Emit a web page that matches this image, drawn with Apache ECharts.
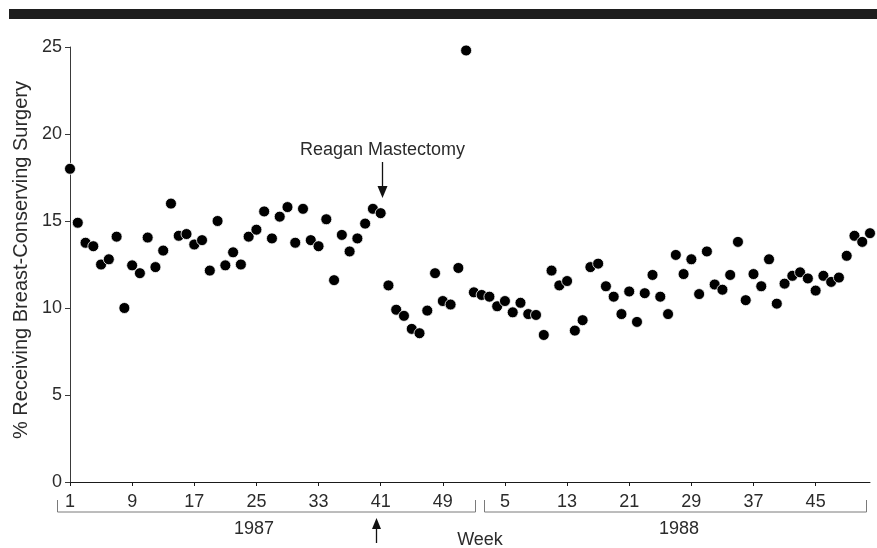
<!DOCTYPE html>
<html>
<head>
<meta charset="utf-8">
<script src="https://cdn.jsdelivr.net/npm/echarts@6/dist/echarts.min.js"></script>
<style>
html,body{margin:0;padding:0;background:#fff;}
#chart{width:877px;height:548px;}
</style>
</head>
<body>
<div id="chart"></div>
<script>
// ---- data ----
const years = ['1987', '1988'];
const weeksPerYear = 52;
const rate1987 = [
  18.0, 14.9, 13.75, 13.55, 12.5, 12.8, 14.1, 10.0, 12.45, 12.0,
  14.05, 12.35, 13.3, 16.0, 14.15, 14.25, 13.65, 13.9, 12.15, 15.0,
  12.45, 13.2, 12.5, 14.1, 14.5, 15.55, 14.0, 15.25, 15.8, 13.75,
  15.7, 13.9, 13.55, 15.1, 11.6, 14.2, 13.25, 14.0, 14.85, 15.7,
  15.45, 11.3, 9.9, 9.55, 8.8, 8.55, 9.85, 12.0, 10.4, 10.2,
  12.3, 24.8
];
const rate1988 = [
  10.9, 10.75, 10.65, 10.1, 10.4, 9.75, 10.3, 9.65, 9.6, 8.45,
  12.15, 11.3, 11.55, 8.7, 9.3, 12.35, 12.55, 11.25, 10.65, 9.65,
  10.95, 9.2, 10.85, 11.9, 10.65, 9.65, 13.05, 11.95, 12.8, 10.8,
  13.25, 11.35, 11.05, 11.9, 13.8, 10.45, 11.95, 11.25, 12.8, 10.25,
  11.4, 11.85, 12.05, 11.7, 11.0, 11.85, 11.5, 11.75, 13.0, 14.15,
  13.8, 14.3
];
const yTicks = [0, 5, 10, 15, 20, 25];
const yAxisTitle = '% Receiving Breast-Conserving Surgery';
const xAxisTitle = 'Week';
const annotationText = 'Reagan Mastectomy';

// categories: "year-week"
const categories = [];
years.forEach(y => { for (let w = 1; w <= weeksPerYear; w++) categories.push(y + '-' + w); });
const values = rate1987.concat(rate1988);

const FONT = "'Liberation Sans', Arial, Helvetica, sans-serif";
const TXT = '#2b2b2b';
const BR = '#7a7a7a';

const chart = echarts.init(document.getElementById('chart'), null, {renderer: 'canvas'});
chart.setOption({
  animation: false,
  backgroundColor: '#fff',
  grid: {left: 70, right: 7, top: 47, bottom: 66},
  xAxis: {
    type: 'category',
    data: categories,
    boundaryGap: false,
    axisLine: {lineStyle: {color: '#1a1a1a', width: 1}},
    axisTick: {show: true, interval: 7, length: 4, lineStyle: {color: '#1a1a1a'}},
    axisLabel: {
      interval: 7, margin: 11, color: TXT, fontSize: 18, fontFamily: FONT,
      formatter: v => v.split('-')[1]
    },
    splitLine: {show: false}
  },
  yAxis: {
    type: 'value',
    min: yTicks[0], max: yTicks[yTicks.length - 1], interval: 5,
    name: yAxisTitle,
    nameLocation: 'middle',
    nameGap: 36,
    nameTextStyle: {color: TXT, fontSize: 20, fontFamily: FONT, padding: [0, 0, 0, 9]},
    axisLine: {show: true, lineStyle: {color: '#3a3a3a', width: 1}},
    axisTick: {show: true, length: 5, lineStyle: {color: '#3a3a3a'}},
    axisLabel: {margin: 8, color: TXT, fontSize: 18, fontFamily: FONT},
    splitLine: {show: false}
  },
  series: [{
    type: 'scatter',
    data: values,
    symbol: 'circle',
    symbolSize: 11,
    itemStyle: {color: '#000', borderColor: '#fff', borderWidth: 0.8, opacity: 1},
    z: 3
  }],
  graphic: [
    {type: 'rect', shape: {x: 9, y: 9, width: 868, height: 10}, style: {fill: '#1e1e1e'}},
    // year brackets
    {type: 'polyline', shape: {points: [[57.5, 500], [57.5, 512], [475.5, 512], [475.5, 500]]}, style: {stroke: BR, lineWidth: 1, fill: null}},
    {type: 'polyline', shape: {points: [[484.5, 500], [484.5, 512], [866.5, 512], [866.5, 500]]}, style: {stroke: BR, lineWidth: 1, fill: null}},
    {type: 'text', x: 254, y: 529, style: {text: years[0], fill: TXT, font: '18px ' + FONT, textAlign: 'center', textVerticalAlign: 'middle'}},
    {type: 'text', x: 679, y: 529, style: {text: years[1], fill: TXT, font: '18px ' + FONT, textAlign: 'center', textVerticalAlign: 'middle'}},
    {type: 'text', x: 480, y: 540, style: {text: xAxisTitle, fill: TXT, font: '18px ' + FONT, textAlign: 'center', textVerticalAlign: 'middle'}},
    // annotation
    {type: 'text', x: 382.5, y: 150, style: {text: annotationText, fill: TXT, font: '18px ' + FONT, textAlign: 'center', textVerticalAlign: 'middle'}},
    {type: 'line', shape: {x1: 382.5, y1: 162, x2: 382.5, y2: 192}, style: {stroke: '#111', lineWidth: 1.3}},
    {type: 'polygon', shape: {points: [[377.5, 186], [387.5, 186], [382.5, 198]]}, style: {fill: '#111'}},
    // bottom arrow
    {type: 'line', shape: {x1: 376.5, y1: 526, x2: 376.5, y2: 543}, style: {stroke: '#111', lineWidth: 1.3}},
    {type: 'polygon', shape: {points: [[372, 529], [381, 529], [376.5, 518]]}, style: {fill: '#111'}}
  ]
});
</script>
</body>
</html>
